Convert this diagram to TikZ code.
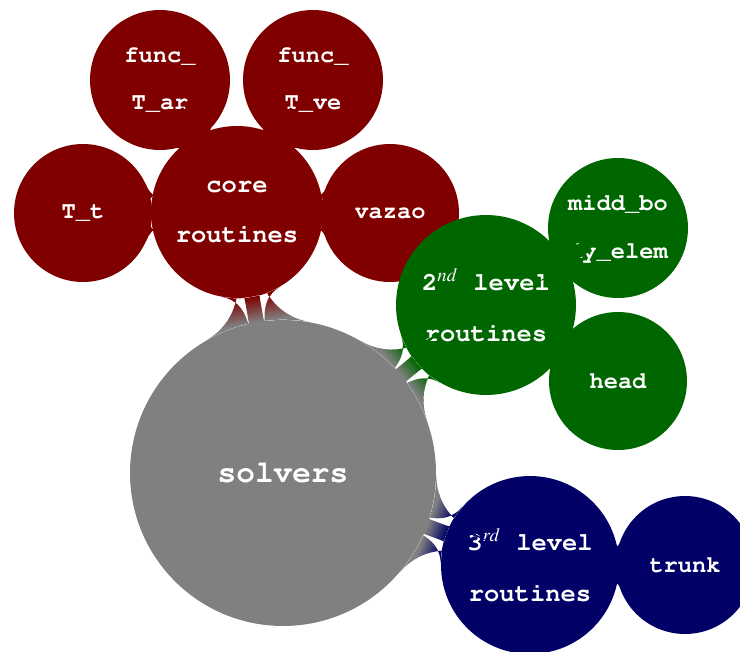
\documentclass[tikz,border=0pt]{standalone}
\usepackage[T1]{fontenc}
\usepackage{mathptmx}
\usepackage{courier}
\usetikzlibrary{mindmap}

\colorlet{solvcol}{gray}
\colorlet{corecol}{red!50!black}
\colorlet{seccol}{green!40!black}
\colorlet{thirdcol}{blue!40!black}

\begin{document}
\begin{tikzpicture}[x=0.02cm,y=-0.02cm,
  bubble/.style={circle,text=white,inner sep=0pt,align=center,
    font=\ttfamily\bfseries\fontsize{13.5}{27}\selectfont},
  big/.style={bubble,minimum size=3.5cm,font=\ttfamily\bfseries\fontsize{14.5}{29}\selectfont},
  small/.style={bubble,minimum size=2.76cm}]
\useasboundingbox (0,0) rectangle (740,652);

% root
\node[bubble,fill=solvcol,minimum size=6.12cm,font=\ttfamily\bfseries\fontsize{17.7}{21}\selectfont] (solvers) at (283,473) {solvers};

% core routines
\node[big,fill=corecol,minimum size=3.44cm] (core) at (237,212) {core\\routines};
\node[small,fill=corecol,minimum size=2.8cm] (farm) at (160,80) {func\_\\T\_ar};
\node[small,fill=corecol,minimum size=2.8cm] (fven) at (313,80) {func\_\\T\_ve};
\node[small,fill=corecol] (tt) at (83,213) {T\_t};
\node[small,fill=corecol] (vazao) at (390,213) {vazao};

% 2nd level
\node[big,fill=seccol,minimum size=3.6cm] (second) at (486,305) {2$^{nd}$ level\\routines};
\node[small,fill=seccol,minimum size=2.8cm] (midd) at (618,228) {midd\_bo\\dy\_elem};
\node[small,fill=seccol] (head) at (618,381) {head};

% 3rd level
\node[big,fill=thirdcol,minimum size=3.56cm] (third) at (530,565) {3$^{rd}$ level\\routines};
\node[small,fill=thirdcol] (trunk) at (685,565) {trunk};

\path (solvers) to[circle connection bar switch color=from (solvcol) to (corecol)] (core);
\path (solvers) to[circle connection bar switch color=from (solvcol) to (seccol)] (second);
\path (solvers) to[circle connection bar switch color=from (solvcol) to (thirdcol)] (third);
\path (core) to[circle connection bar switch color=from (corecol) to (corecol)] (farm);
\path (core) to[circle connection bar switch color=from (corecol) to (corecol)] (fven);
\path (core) to[circle connection bar switch color=from (corecol) to (corecol)] (tt);
\path (core) to[circle connection bar switch color=from (corecol) to (corecol)] (vazao);
\path (second) to[circle connection bar switch color=from (seccol) to (seccol)] (midd);
\path (second) to[circle connection bar switch color=from (seccol) to (seccol)] (head);
\path (third) to[circle connection bar switch color=from (thirdcol) to (thirdcol)] (trunk);
\end{tikzpicture}
\end{document}
